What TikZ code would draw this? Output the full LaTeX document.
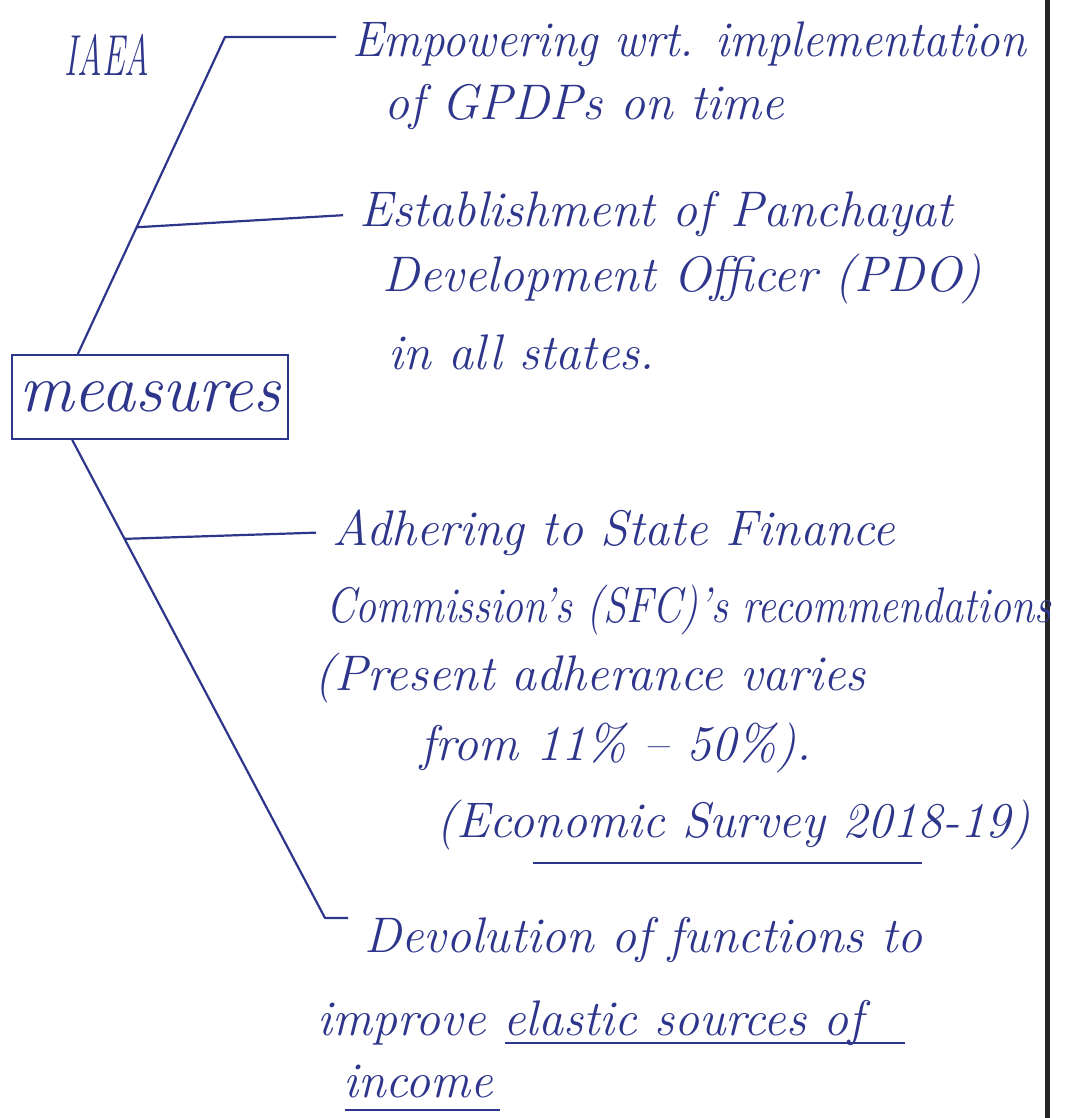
\documentclass[tikz,border=0pt]{standalone}
\usetikzlibrary{calc}

\definecolor{ink}{RGB}{46,54,140}
\definecolor{margin}{RGB}{38,38,38}

\tikzset{
  hand/.style={ink, font=\fontsize{25}{30}\selectfont\itshape, anchor=base west, inner sep=2pt},
  branch/.style={ink, line width=1.1pt, line join=round, shorten >=6},
  topic/.style={draw=ink, line width=0.9pt, minimum width=138pt, minimum height=42pt, inner sep=0pt,
    font=\fontsize{34}{40}\selectfont\itshape, text=ink},
}

\begin{document}
\begin{tikzpicture}[x=0.5pt,y=-0.5pt]
\useasboundingbox (0,0) rectangle (1072,1118);

% margin of the page
\coordinate (mtop) at (1047,0);
\coordinate (mbot) at (1047,1118);
\draw[margin, line width=2.5pt] (mtop) -- (mbot);

\node[ink, font=\fontsize{17}{20}\selectfont\itshape] (iaea) at (107,55) {\scalebox{1}[1.7]{IAEA}};

% central topic
\node[topic] (measures) at (150,397) {measures};

% upper points
\node[hand] (emp1) at (348,57) {\scalebox{0.94}[1]{Empowering wrt. implementation}};
\node[hand] (emp2) at (380,120) {of GPDPs on time};

\node[hand] (est1) at (355,227) {Establishment of Panchayat};
\node[hand] (est2) at (378,292) {Development Officer (PDO)};
\node[hand] (est3) at (384,369) {in all states.};

% lower points
\node[hand] (adh1) at (328,545) {Adhering to State Finance};
\node[hand] (adh2) at (322,622) {\scalebox{0.84}[1]{Commission's (SFC)'s recommendations}};
\node[hand] (adh3) at (310,690) {(Present adherance varies};
\node[hand] (adh4) at (416,760) {from 11\% -- 50\%).};
\node[hand] (adh5) at (432,837) {(Economic Survey 2018-19)};

\node[hand] (dev1) at (360,952) {Devolution of functions to};
\node[hand] (dev2) at (313,1035) {improve elastic sources of};
\node[hand] (dev3) at (339,1097) {income};

% connectors
\coordinate (topknee) at (225,37);
\coordinate (lowknee) at (325,918);
\coordinate (topfoot) at ($(measures.north west)!0.24!(measures.north east)$);
\coordinate (lowfoot) at ($(measures.south west)!0.22!(measures.south east)$);

\draw[branch] (topfoot) -- (topknee) -- (emp1.west |- topknee);
\draw[branch] ($(topfoot)!0.4!(topknee)$) -- (est1.west);
\draw[branch] (lowfoot) -- (lowknee) -- (dev1.west |- lowknee);
\draw[branch] ($(lowfoot)!0.207!(lowknee)$) -- (adh1.west);

% underlines
\draw[ink, line width=0.9pt] (533,863) -- (922,863);
\draw[ink, line width=0.9pt] (505,1043) -- (905,1043);
\draw[ink, line width=0.9pt] (345,1110) -- (500,1110);
\end{tikzpicture}
\end{document}
